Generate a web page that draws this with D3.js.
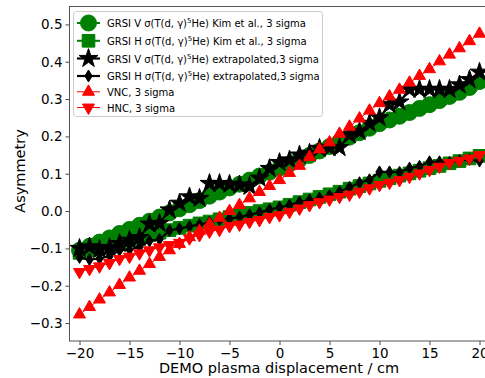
<!DOCTYPE html>
<html>
<head>
<meta charset="utf-8">
<script src="https://cdn.jsdelivr.net/npm/d3@7"></script>
<style>
    body { margin: 0; background: #fff; }
    svg { display: block; font-family: "DejaVu Sans", sans-serif; }
</style>
</head>
<body>
<svg id="chart"></svg>
<script>

// Displacement values (cm)
var displacement = d3.range(-20, 21, 1);

// GRSI V, Kim et al. (green circles)
var grsiVKim = [-0.105, -0.094, -0.083, -0.072, -0.060, -0.049, -0.038, -0.027, -0.016, -0.005,
    0.006, 0.017, 0.028, 0.040, 0.051, 0.062, 0.072, 0.083, 0.094, 0.104,
    0.115, 0.126, 0.138, 0.149, 0.161, 0.173, 0.186, 0.198, 0.210, 0.222,
    0.234, 0.244, 0.254, 0.264, 0.275, 0.285, 0.296, 0.307, 0.318, 0.331, 0.347];

// GRSI H, Kim et al. (green squares)
var grsiHKim = [-0.112, -0.105, -0.098, -0.091, -0.084, -0.078, -0.071, -0.064, -0.058, -0.051,
    -0.045, -0.039, -0.033, -0.028, -0.022, -0.016, -0.011, -0.005, 0.000, 0.005,
    0.010, 0.017, 0.024, 0.031, 0.038, 0.045, 0.052, 0.060, 0.067, 0.074,
    0.081, 0.088, 0.095, 0.101, 0.108, 0.115, 0.121, 0.128, 0.134, 0.141, 0.148];

// GRSI V extrapolated (black stars)
var grsiVExt = [-0.100, -0.096, -0.103, -0.098, -0.087, -0.078, -0.071, -0.035, -0.033, 0.003,
    0.021, 0.038, 0.034, 0.074, 0.074, 0.072, 0.070, 0.066, 0.088, 0.114,
    0.130, 0.137, 0.150, 0.155, 0.168, 0.170, 0.170, 0.204, 0.213, 0.235,
    0.250, 0.285, 0.292, 0.326, 0.326, 0.326, 0.326, 0.326, 0.338, 0.352, 0.372];

// GRSI H extrapolated (black thin diamonds)
var grsiHExt = [-0.124, -0.130, -0.127, -0.121, -0.105, -0.103, -0.096, -0.080, -0.076, -0.052,
    -0.047, -0.041, -0.036, -0.030, -0.024, -0.020, -0.016, -0.010, -0.004, 0.004,
    0.010, 0.016, 0.024, 0.030, 0.035, 0.042, 0.052, 0.064, 0.076, 0.084,
    0.105, 0.105, 0.104, 0.115, 0.120, 0.132, 0.132, 0.130, 0.135, 0.138, 0.134];

// VNC (red up triangles)
var vnc = [-0.277, -0.257, -0.237, -0.218, -0.198, -0.178, -0.160, -0.142, -0.123, -0.105,
    -0.088, -0.070, -0.053, -0.035, -0.018, 0.000, 0.016, 0.034, 0.051, 0.067,
    0.083, 0.102, 0.121, 0.145, 0.165, 0.184, 0.207, 0.226, 0.248, 0.269,
    0.289, 0.307, 0.325, 0.344, 0.362, 0.380, 0.401, 0.419, 0.436, 0.455, 0.475];

// HNC (red down triangles)
var hnc = [-0.163, -0.155, -0.148, -0.139, -0.128, -0.122, -0.113, -0.105, -0.097, -0.091,
    -0.085, -0.073, -0.064, -0.055, -0.050, -0.040, -0.036, -0.029, -0.024, -0.016,
    -0.011, -0.002, 0.007, 0.016, 0.024, 0.031, 0.038, 0.044, 0.052, 0.061,
    0.070, 0.076, 0.083, 0.092, 0.101, 0.110, 0.119, 0.129, 0.135, 0.141, 0.150];

// Tick values
var xTicks = [-20, -15, -10, -5, 0, 5, 10, 15, 20];
var yTicks = [-0.3, -0.2, -0.1, 0.0, 0.1, 0.2, 0.3, 0.4, 0.5];

// Legend labels (prefix, suffix around the superscript 5)
var labelPrefix = ["GRSI V \u03c3(T(d, \u03b3)", "GRSI H \u03c3(T(d, \u03b3)", "GRSI V \u03c3(T(d, \u03b3)", "GRSI H \u03c3(T(d, \u03b3)", "VNC, 3 sigma", "HNC, 3 sigma"];
var labelSuffix = ["He) Kim et al., 3 sigma", "He) Kim et al., 3 sigma", "He) extrapolated,3 sigma", "He) extrapolated,3 sigma", null, null];

/*Figure dims*/
var svgwidth = 485, svgheight = 378;
var plot = {"left": 69.5, "right": 489.5, "top": 6.5, "bottom": 341};

var svg = d3.select("#chart")
    .attr("width", svgwidth)
    .attr("height", svgheight);

//Scales
var xScale = d3.scaleLinear().domain([-21, 21]).range([plot.left, plot.right]);
var yScale = d3.scaleLinear().domain([-0.348, 0.548]).range([plot.bottom, plot.top]);

//Marker shapes
function thinDiamond(r) {
    var w = r * 0.6;
    return "M0," + (-r) + "L" + w + ",0L0," + r + "L" + (-w) + ",0Z";
}
var circlePath = d3.symbol().type(d3.symbolCircle).size(200)();
var squarePath = d3.symbol().type(d3.symbolSquare).size(160)();
var starPath = d3.symbol().type(d3.symbolStar).size(110)();
var triPath = d3.symbol().type(d3.symbolTriangle).size(62)();

var series = [
    {"values": grsiVKim, "colour": "green", "lw": 2, "path": circlePath, "rot": 0},
    {"values": grsiHKim, "colour": "green", "lw": 2, "path": squarePath, "rot": 0},
    {"values": grsiVExt, "colour": "black", "lw": 2.2, "path": starPath, "rot": 0},
    {"values": grsiHExt, "colour": "black", "lw": 2.2, "path": thinDiamond(6), "rot": 0},
    {"values": vnc, "colour": "red", "lw": 1, "path": triPath, "rot": 0},
    {"values": hnc, "colour": "red", "lw": 1, "path": triPath, "rot": 180}
];

//Clip to axes
svg.append("clipPath").attr("id", "clip")
    .append("rect")
    .attr("x", plot.left).attr("y", plot.top)
    .attr("width", plot.right - plot.left).attr("height", plot.bottom - plot.top);

var plotArea = svg.append("g").attr("clip-path", "url(#clip)");

var line = d3.line()
    .x(function(d, i){ return xScale(displacement[i]); })
    .y(function(d){ return yScale(d); });

//Draw data
series.forEach(function(s){
    var g = plotArea.append("g");
    g.append("path")
        .attr("d", line(s.values))
        .attr("fill", "none")
        .attr("stroke", s.colour)
        .attr("stroke-width", s.lw);
    g.selectAll(".mk")
        .data(s.values)
        .enter()
        .append("path")
        .attr("class", "mk")
        .attr("d", s.path)
        .attr("fill", s.colour)
        .attr("stroke", s.colour)
        .attr("stroke-width", 1)
        .attr("transform", function(d, i){
            return "translate(" + xScale(displacement[i]) + "," + yScale(d) + ") rotate(" + s.rot + ")";
        });
});

//Axes
var xAxis = d3.axisBottom(xScale).tickValues(xTicks).tickSize(4).tickPadding(3)
    .tickFormat(d3.format("d"));
var yAxis = d3.axisLeft(yScale).tickValues(yTicks).tickSize(4).tickPadding(3)
    .tickFormat(d3.format(".1f"));

var gx = svg.append("g")
    .attr("transform", "translate(0," + plot.bottom + ")")
    .call(xAxis);
var gy = svg.append("g")
    .attr("transform", "translate(" + plot.left + ",0)")
    .call(yAxis);

[gx, gy].forEach(function(g){
    g.select(".domain").remove();
    g.selectAll("line").attr("stroke", "#333").attr("stroke-width", 0.9);
    g.selectAll("text").attr("font-size", 13.5).attr("fill", "#000")
        .attr("font-family", "DejaVu Sans");
});

//Frame
svg.append("rect")
    .attr("x", plot.left).attr("y", plot.top)
    .attr("width", plot.right - plot.left).attr("height", plot.bottom - plot.top)
    .attr("fill", "none")
    .attr("stroke", "#555")
    .attr("stroke-width", 1);

//Axis labels
svg.append("text")
    .attr("x", 279).attr("y", 373)
    .attr("text-anchor", "middle")
    .attr("font-size", 14.5)
    .text("DEMO plasma displacement / cm");

svg.append("text")
    .attr("transform", "translate(25,171) rotate(-90)")
    .attr("text-anchor", "middle")
    .attr("font-size", 14.5)
    .text("Asymmetry");

//Legend
var legend = svg.append("g");
legend.append("rect")
    .attr("x", 73.5).attr("y", 11.5)
    .attr("width", 249).attr("height", 105)
    .attr("rx", 3)
    .attr("fill", "white").attr("fill-opacity", 0.8)
    .attr("stroke", "#ccc").attr("stroke-width", 1);

var rowY = [23, 40.8, 58.5, 76, 91.8, 107.5];
series.forEach(function(s, i){
    var row = legend.append("g").attr("transform", "translate(0," + rowY[i] + ")");
    row.append("line")
        .attr("x1", 77).attr("x2", 100)
        .attr("stroke", s.colour).attr("stroke-width", s.lw);
    row.append("path")
        .attr("d", s.path)
        .attr("fill", s.colour).attr("stroke", s.colour)
        .attr("transform", "translate(88.5,0) rotate(" + s.rot + ")");
    var t = row.append("text")
        .attr("x", 107).attr("y", 4)
        .attr("font-size", 10);
    t.append("tspan").text(labelPrefix[i]);
    if (labelSuffix[i] != null) {
        t.append("tspan").attr("dy", -4).attr("font-size", 7).text("5");
        t.append("tspan").attr("dy", 4).text(labelSuffix[i]);
    }
});

</script>
</body>
</html>
